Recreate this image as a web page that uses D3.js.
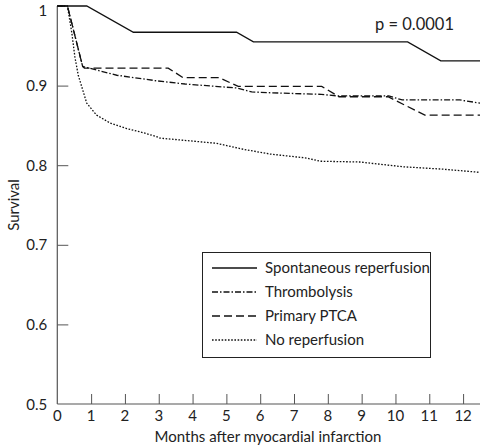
<!DOCTYPE html>
<html><head><meta charset="utf-8">
<script src="https://cdn.jsdelivr.net/npm/d3@7"></script>
<style>body{margin:0;background:#fff}svg{display:block}text{font-family:Lato,"Noto Sans",sans-serif;fill:#222}</style>
</head><body><svg id="c" width="482" height="448"></svg>
<script>
const seriesNames = ["Spontaneous reperfusion","Thrombolysis","Primary PTCA","No reperfusion"];
const spontaneousMonths = [0,0.87,2.25,5.3,5.8,10.36,11.34,12.5];
const spontaneousSurv   = [1,1,0.967,0.967,0.955,0.955,0.931,0.931];
const thrombolysisMonths = [0,0.3,0.75,1.76,2.94,3.78,5.3,5.75,6.3,7.8,8.3,9.8,10.2,11.9,12.5];
const thrombolysisSurv   = [1,1,0.924,0.913,0.906,0.902,0.897,0.892,0.891,0.889,0.887,0.887,0.882,0.882,0.878];
const ptcaMonths = [0,0.3,0.75,0.8,3.28,3.72,4.78,5.35,7.82,8.33,9.78,10.87,12.5];
const ptcaSurv   = [1,1,0.924,0.922,0.922,0.910,0.910,0.899,0.899,0.886,0.886,0.863,0.863];
const noRepMonths = [0,0.3,0.43,0.52,0.62,0.72,0.87,1.16,1.56,2.05,2.44,2.93,3.04,4.71,5.5,6.29,7.37,7.77,8.95,10.23,11.41,12.5];
const noRepSurv   = [1,1,0.966,0.936,0.913,0.899,0.878,0.863,0.853,0.846,0.842,0.836,0.834,0.8275,0.82,0.814,0.809,0.805,0.804,0.798,0.795,0.791];
const xTicks = [0,1,2,3,4,5,6,7,8,9,10,11,12];
const yTicks = [0.5,0.6,0.7,0.8,0.9,1];
const yTickLabels = ["0.5","0.6","0.7","0.8","0.9","1"];
const pText = "p = 0.0001";

const svg = d3.select("#c");
const x = d3.scaleLinear().domain([0,12.5]).range([57.3,480]);
const y = d3.scaleLinear().domain([0.5,1]).range([404,6]);
const axisCol = "#555";

// axes
svg.append("line").attr("x1",x(0)).attr("x2",x(12.5)).attr("y1",y(0.5)).attr("y2",y(0.5)).attr("stroke",axisCol).attr("stroke-width",1.2);
svg.append("line").attr("x1",x(0)).attr("x2",x(0)).attr("y1",y(0.5)).attr("y2",y(1)).attr("stroke",axisCol).attr("stroke-width",1.2);
const xa = d3.axisTop(x).tickValues(xTicks.filter(d=>d>0)).tickSize(10).tickFormat("");
svg.append("g").attr("transform",`translate(0,${y(0.5)})`).call(xa).call(g=>{g.select(".domain").remove();g.selectAll("line").attr("stroke",axisCol);});
const ya = d3.axisRight(y).tickValues(yTicks.filter(d=>d>0.5&&d<1)).tickSize(11).tickFormat("");
svg.append("g").attr("transform",`translate(${x(0)},0)`).call(ya).call(g=>{g.select(".domain").remove();g.selectAll("line").attr("stroke",axisCol);});
svg.selectAll(".xl").data(xTicks).enter().append("text").attr("x",d=>x(d)).attr("y",y(0.5)+17).attr("text-anchor","middle").attr("font-size",15).text(d=>d);
svg.selectAll(".yl").data(yTicks).enter().append("text").attr("x",x(0)-10).attr("y",(d,i)=>Math.max(y(d)+5.5,15.5)).attr("text-anchor","end").attr("font-size",15).text((d,i)=>yTickLabels[i]);
svg.append("text").attr("x",268).attr("y",442).attr("text-anchor","middle").attr("font-size",15).text("Months after myocardial infarction");
svg.append("text").attr("transform","translate(19,205) rotate(-90)").attr("text-anchor","middle").attr("font-size",15).text("Survival");
svg.append("text").attr("x",375).attr("y",30).attr("font-size",16.5).text(pText);

const styles = [null,"6,2,1.5,2","8,4","1.6,1.6"];
const data = [
  d3.zip(spontaneousMonths,spontaneousSurv),
  d3.zip(thrombolysisMonths,thrombolysisSurv),
  d3.zip(ptcaMonths,ptcaSurv),
  d3.zip(noRepMonths,noRepSurv)
];
const line = d3.line().x(d=>x(d[0])).y(d=>y(d[1]));
data.forEach((d,i)=>{
  svg.append("path").attr("d",line(d)).attr("fill","none").attr("stroke","#111").attr("stroke-width",1.3)
    .attr("stroke-dasharray",styles[i]);
});

// legend
svg.append("rect").attr("x",202.5).attr("y",252.5).attr("width",228).attr("height",105).attr("fill","#fff").attr("stroke","#222").attr("stroke-width",1);
seriesNames.forEach((n,i)=>{
  const yy = 268 + i*24;
  svg.append("line").attr("x1",212).attr("x2",257).attr("y1",yy).attr("y2",yy).attr("stroke","#111").attr("stroke-width",1.3).attr("stroke-dasharray",styles[i]);
  svg.append("text").attr("x",265).attr("y",yy+5).attr("font-size",15).text(n);
});
</script></body></html>
